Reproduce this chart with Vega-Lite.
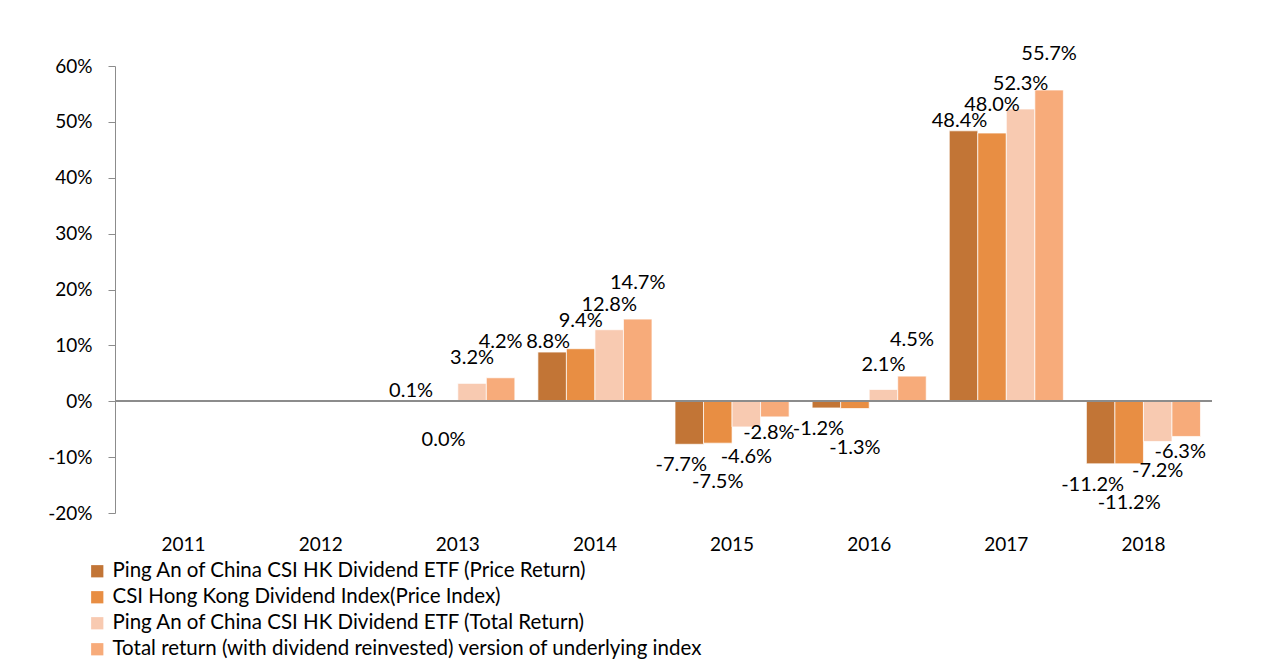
{
  "$schema": "https://vega.github.io/schema/vega-lite/v6.json",
  "autosize": {"type": "none"},
  "padding": {"left": 115, "top": 66, "right": 60, "bottom": 146},
  "width": 1097,
  "height": 447,
  "background": "white",
  "config": {
    "font": "Lato",
    "view": {"stroke": null},
    "locale": {"number": {"decimal": ".", "thousands": ",", "grouping": [3], "currency": ["$", ""], "minus": "-"}}
  },
  "data": {
    "values": [
      {"year": "2013", "series": "Ping An of China CSI HK Dividend ETF (Price Return)", "s": 1, "value": 0.001},
      {"year": "2013", "series": "CSI Hong Kong Dividend Index(Price Index)", "s": 2, "value": -0.0003},
      {"year": "2013", "series": "Ping An of China CSI HK Dividend ETF (Total Return)", "s": 3, "value": 0.032},
      {"year": "2013", "series": "Total return (with dividend reinvested) version of underlying index", "s": 4, "value": 0.042},
      {"year": "2014", "series": "Ping An of China CSI HK Dividend ETF (Price Return)", "s": 1, "value": 0.088},
      {"year": "2014", "series": "CSI Hong Kong Dividend Index(Price Index)", "s": 2, "value": 0.094},
      {"year": "2014", "series": "Ping An of China CSI HK Dividend ETF (Total Return)", "s": 3, "value": 0.128},
      {"year": "2014", "series": "Total return (with dividend reinvested) version of underlying index", "s": 4, "value": 0.147},
      {"year": "2015", "series": "Ping An of China CSI HK Dividend ETF (Price Return)", "s": 1, "value": -0.077},
      {"year": "2015", "series": "CSI Hong Kong Dividend Index(Price Index)", "s": 2, "value": -0.075},
      {"year": "2015", "series": "Ping An of China CSI HK Dividend ETF (Total Return)", "s": 3, "value": -0.046},
      {"year": "2015", "series": "Total return (with dividend reinvested) version of underlying index", "s": 4, "value": -0.028},
      {"year": "2016", "series": "Ping An of China CSI HK Dividend ETF (Price Return)", "s": 1, "value": -0.012},
      {"year": "2016", "series": "CSI Hong Kong Dividend Index(Price Index)", "s": 2, "value": -0.013},
      {"year": "2016", "series": "Ping An of China CSI HK Dividend ETF (Total Return)", "s": 3, "value": 0.021},
      {"year": "2016", "series": "Total return (with dividend reinvested) version of underlying index", "s": 4, "value": 0.045},
      {"year": "2017", "series": "Ping An of China CSI HK Dividend ETF (Price Return)", "s": 1, "value": 0.484},
      {"year": "2017", "series": "CSI Hong Kong Dividend Index(Price Index)", "s": 2, "value": 0.480},
      {"year": "2017", "series": "Ping An of China CSI HK Dividend ETF (Total Return)", "s": 3, "value": 0.523},
      {"year": "2017", "series": "Total return (with dividend reinvested) version of underlying index", "s": 4, "value": 0.557},
      {"year": "2018", "series": "Ping An of China CSI HK Dividend ETF (Price Return)", "s": 1, "value": -0.112},
      {"year": "2018", "series": "CSI Hong Kong Dividend Index(Price Index)", "s": 2, "value": -0.112},
      {"year": "2018", "series": "Ping An of China CSI HK Dividend ETF (Total Return)", "s": 3, "value": -0.072},
      {"year": "2018", "series": "Total return (with dividend reinvested) version of underlying index", "s": 4, "value": -0.063}
    ]
  },
  "encoding": {
    "x": {
      "field": "year", "type": "nominal",
      "scale": {"domain": ["2011", "2012", "2013", "2014", "2015", "2016", "2017", "2018"], "paddingInner": 0.168, "paddingOuter": 0.084},
      "axis": {"title": null, "labelAngle": 0, "domain": false, "ticks": false, "labelPadding": 22, "labelFontSize": 19, "labelColor": "#000000", "labelFont": "Lato"}
    },
    "xOffset": {
      "field": "series", "type": "nominal",
      "scale": {"domain": [
        "Ping An of China CSI HK Dividend ETF (Price Return)",
        "CSI Hong Kong Dividend Index(Price Index)",
        "Ping An of China CSI HK Dividend ETF (Total Return)",
        "Total return (with dividend reinvested) version of underlying index"
      ], "paddingInner": 0, "paddingOuter": 0}
    },
    "y": {
      "field": "value", "type": "quantitative",
      "scale": {"domain": [-0.2, 0.6], "nice": false, "zero": false},
      "axis": {"title": null, "format": ".0%", "values": [-0.2, -0.1, 0, 0.1, 0.2, 0.3, 0.4, 0.5, 0.6], "grid": false,
        "domainColor": "#8c8c8c", "tickColor": "#8c8c8c", "tickSize": 7, "labelPadding": 16,
        "labelFontSize": 19, "labelColor": "#000000", "labelFont": "Lato"}
    }
  },
  "layer": [
    {
      "mark": {"type": "bar", "stroke": "#ffffff", "strokeWidth": 1, "strokeOpacity": 0.7},
      "encoding": {
        "color": {
          "field": "series", "type": "nominal",
          "scale": {
            "domain": [
              "Ping An of China CSI HK Dividend ETF (Price Return)",
              "CSI Hong Kong Dividend Index(Price Index)",
              "Ping An of China CSI HK Dividend ETF (Total Return)",
              "Total return (with dividend reinvested) version of underlying index"
            ],
            "range": ["#C27536", "#E88E43", "#F8CAB1", "#F7AB7A"]
          },
          "legend": {
            "title": null, "orient": "none", "legendX": -28, "legendY": 495, "direction": "vertical",
            "symbolType": "square", "symbolSize": 150, "symbolStrokeWidth": 0,
            "labelFontSize": 20.5, "labelColor": "#000000", "labelFont": "Lato", "labelLimit": 900,
            "rowPadding": 5, "labelOffset": 5
          }
        }
      }
    },
    {
      "mark": {"type": "rule", "color": "#8c8c8c", "strokeWidth": 1.5},
      "encoding": {"y": {"datum": 0}, "x": {}, "xOffset": null}
    },
    {
      "transform": [{"filter": "datum.s == 1 && datum.value >= 0"}],
      "mark": {"type": "text", "baseline": "middle", "dx": -4, "dy": -10, "fontSize": 20, "color": "#000000", "font": "Lato"},
      "encoding": {"text": {"field": "value", "type": "quantitative", "format": ".1%"}}
    },
    {
      "transform": [{"filter": "datum.s == 1 && datum.value < 0"}],
      "mark": {"type": "text", "baseline": "middle", "dx": -8, "dy": 21, "fontSize": 20, "color": "#000000", "font": "Lato"},
      "encoding": {"text": {"field": "value", "type": "quantitative", "format": ".1%"}}
    },
    {
      "transform": [{"filter": "datum.s == 2 && datum.value >= 0"}],
      "mark": {"type": "text", "baseline": "middle", "dy": -28, "fontSize": 20, "color": "#000000", "font": "Lato"},
      "encoding": {"text": {"field": "value", "type": "quantitative", "format": ".1%"}}
    },
    {
      "transform": [{"filter": "datum.s == 2 && datum.value < 0"}],
      "mark": {"type": "text", "baseline": "middle", "dy": 39, "fontSize": 20, "color": "#000000", "font": "Lato"},
      "encoding": {"text": {"field": "value", "type": "quantitative", "format": ".1%"}}
    },
    {
      "transform": [{"filter": "datum.s == 3 && datum.value >= 0"}],
      "mark": {"type": "text", "baseline": "middle", "dy": -25, "fontSize": 20, "color": "#000000", "font": "Lato"},
      "encoding": {"text": {"field": "value", "type": "quantitative", "format": ".1%"}}
    },
    {
      "transform": [{"filter": "datum.s == 3 && datum.value < 0"}],
      "mark": {"type": "text", "baseline": "middle", "dy": 30, "fontSize": 20, "color": "#000000", "font": "Lato"},
      "encoding": {"text": {"field": "value", "type": "quantitative", "format": ".1%"}}
    },
    {
      "transform": [{"filter": "datum.s == 4 && datum.value >= 0"}],
      "mark": {"type": "text", "baseline": "middle", "dy": -36, "fontSize": 20, "color": "#000000", "font": "Lato"},
      "encoding": {"text": {"field": "value", "type": "quantitative", "format": ".1%"}}
    },
    {
      "transform": [{"filter": "datum.s == 4 && datum.value < 0"}],
      "mark": {"type": "text", "baseline": "middle", "dx": -6, "dy": 16, "fontSize": 20, "color": "#000000", "font": "Lato"},
      "encoding": {"text": {"field": "value", "type": "quantitative", "format": ".1%"}}
    }
  ]
}
